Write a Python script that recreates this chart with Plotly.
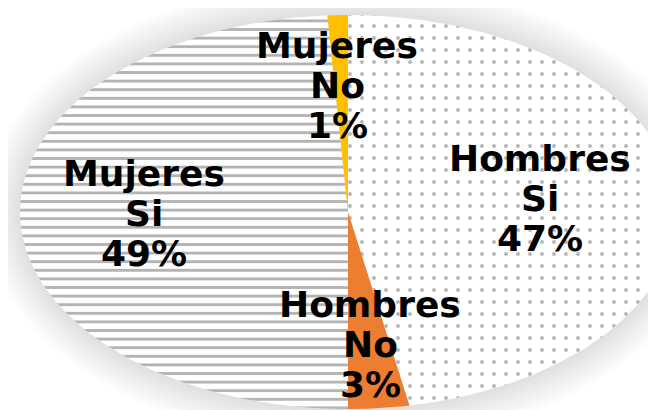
import numpy as np
import plotly.graph_objects as go

# datos (orden horario desde arriba)
grupos = ["Hombres", "Hombres", "Mujeres", "Mujeres"]
respuestas = ["Si", "No", "Si", "No"]
porcentajes = [47, 3, 49, 1]

colores = ["#ffffff", "#ED7D31", "#ffffff", "#FFC000"]
patrones = [".", "", "-", ""]

# centro de cada etiqueta (px, y hacia abajo)
pos_etiquetas = [(532, 190), (362, 336), (136, 205), (329, 77)]

# elipse del pastel (px)
cx, cy = 340, 204
rx, ry = 328, 197

fig = go.Figure()

# sombra suave alrededor
for k in range(1, 11):
    d = 3.5 * k
    fig.add_shape(type="circle", xref="x", yref="y",
                  x0=cx - rx - d, x1=cx + rx + d, y0=cy - ry - d, y1=cy + ry + d,
                  fillcolor="rgba(0,0,0,0.011)", line_width=0, layer="below")

total = sum(porcentajes)
inicio = 0.0
for p, col, pat in zip(porcentajes, colores, patrones):
    fin = inicio + p / total * 2 * np.pi
    t = np.linspace(inicio, fin, max(int(np.degrees(fin - inicio)), 2) + 1)
    xs = np.concatenate([[cx], cx + rx * np.sin(t), [cx]])
    ys = np.concatenate([[cy], cy - ry * np.cos(t), [cy]])
    patron = None
    if pat == ".":
        patron = dict(shape=".", fgcolor="#6a6a6a", bgcolor="#ffffff", size=12, solidity=0.08)
    elif pat == "-":
        patron = dict(shape="-", fgcolor="#6a6a6a", bgcolor="#ffffff", size=8.6, solidity=0.33)
    fig.add_trace(go.Scatter(x=xs, y=ys, mode="lines", fill="toself", fillcolor=col,
                             fillpattern=patron, line=dict(color=col, width=0),
                             hoverinfo="skip"))
    inicio = fin

# etiquetas, una linea cada una
for g, r, p, (lx, ly) in zip(grupos, respuestas, porcentajes, pos_etiquetas):
    for i, txt in enumerate([g, r, f"{p}%"]):
        fig.add_annotation(x=lx, y=ly + (i - 1) * 40, xref="x", yref="y", text=txt,
                           showarrow=False, xanchor="center", yanchor="middle",
                           font=dict(family="DejaVu Sans", size=36, color="#000000", weight="bold"))

fig.update_layout(
    width=656, height=410,
    margin=dict(l=0, r=0, t=0, b=0),
    paper_bgcolor="#ffffff", plot_bgcolor="#ffffff",
    showlegend=False,
    xaxis=dict(range=[0, 656], visible=False, fixedrange=True),
    yaxis=dict(range=[410, 0], visible=False, fixedrange=True),
)

fig.write_html("out.html")
